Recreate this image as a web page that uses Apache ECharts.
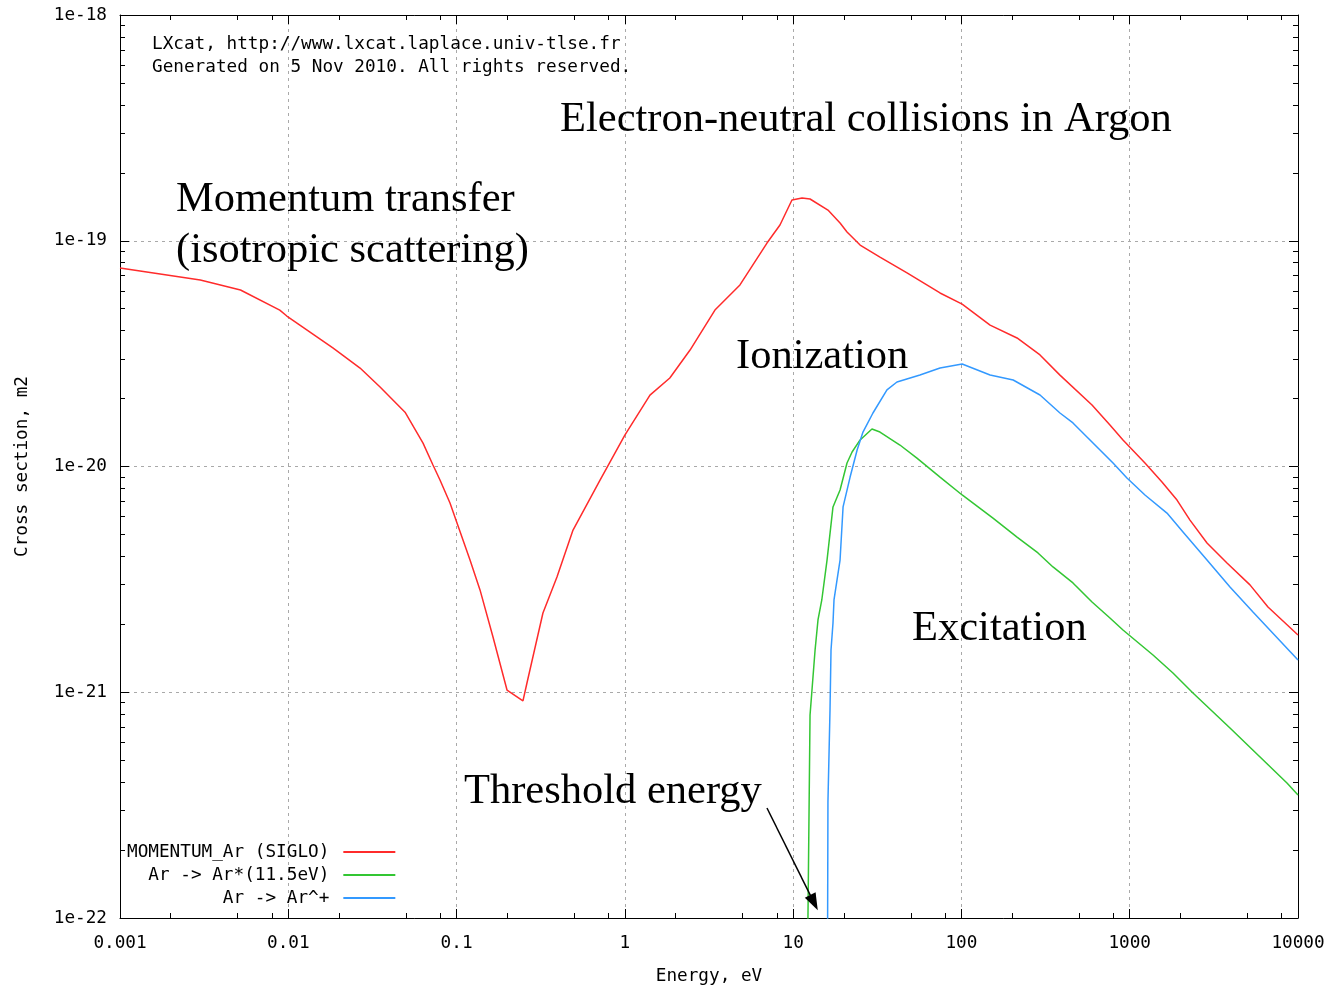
<!DOCTYPE html>
<html>
<head>
<meta charset="utf-8">
<title>Electron-neutral collisions in Argon</title>
<script src="https://cdn.jsdelivr.net/npm/echarts@6/dist/echarts.min.js"></script>
<style>
  html, body { margin: 0; padding: 0; background: #ffffff; }
  #chart { width: 1330px; height: 990px; }
</style>
</head>
<body>
<div id="chart"></div>
<script>
// ---- Cross-section data (energy in eV, cross section in m2) ----
const momentumEnergy = [0.001, 0.003, 0.0052, 0.0089, 0.0098, 0.0184, 0.0267, 0.0351, 0.0494, 0.0632,
  0.0724, 0.0797, 0.0914, 0.1006, 0.1202, 0.1378, 0.1646, 0.1994, 0.248, 0.262,
  0.326, 0.395, 0.492, 0.712, 1.0, 1.41, 1.85, 2.44, 3.43, 4.83,
  6.99, 8.35, 9.84, 11.3, 12.6, 16.1, 19.0, 20.9, 25.0, 32.8,
  47.5, 74.6, 101, 148, 214, 293, 385, 597, 763, 912,
  1232, 1555, 1910, 2281, 2879, 3785, 5183, 6631, 10000];
const momentumSigma = [7.57e-20, 6.70e-20, 6.05e-20, 4.93e-20, 4.64e-20, 3.35e-20, 2.73e-20, 2.25e-20, 1.74e-20, 1.27e-20,
  1.015e-20, 8.71e-21, 6.89e-21, 5.62e-21, 3.85e-21, 2.84e-21, 1.757e-21, 1.023e-21, 9.15e-22, 1.099e-21,
  2.244e-21, 3.24e-21, 5.23e-21, 8.71e-21, 1.378e-20, 2.07e-20, 2.466e-20, 3.28e-20, 4.93e-20, 6.37e-20,
  9.77e-20, 1.174e-19, 1.516e-19, 1.547e-19, 1.531e-19, 1.368e-19, 1.198e-19, 1.093e-19, 9.57e-20, 8.47e-20,
  7.20e-20, 5.87e-20, 5.24e-20, 4.23e-20, 3.71e-20, 3.12e-20, 2.54e-20, 1.873e-20, 1.527e-20, 1.311e-20,
  1.036e-20, 8.54e-21, 7.10e-21, 5.79e-21, 4.58e-21, 3.74e-21, 2.99e-21, 2.385e-21, 1.793e-21];

// excitation starts at its 11.5 eV threshold (first value is effectively zero)
const excitationEnergy = [11.5, 12.6, 12.9, 13.5, 14.05, 14.8, 15.9, 17.25, 19.0, 20.9,
  22.4, 25.0, 29.4, 32.8, 43.1, 54.4, 74.6, 101, 154, 214,
  285, 350, 460, 597, 763, 912, 1375, 1807, 2376, 3943,
  8600, 10000];
const excitationSigma = [1e-24, 7.93e-22, 9.93e-22, 1.539e-21, 2.09e-21, 2.563e-21, 3.85e-21, 6.62e-21, 7.87e-21, 1.036e-20,
  1.159e-20, 1.311e-20, 1.466e-20, 1.421e-20, 1.245e-20, 1.09e-20, 8.98e-21, 7.48e-21, 5.91e-21, 4.87e-21,
  4.14e-21, 3.59e-21, 3.05e-21, 2.51e-21, 2.133e-21, 1.887e-21, 1.462e-21, 1.217e-21, 9.92e-22, 6.94e-22,
  3.96e-22, 3.51e-22];

// ionization starts at 15.76 eV (first value is effectively zero)
const ionizationEnergy = [15.76, 16.1, 16.56, 16.79, 17.25, 17.49, 19.0, 19.8, 21.8, 24.0,
  26.0, 29.8, 36.1, 41.4, 56.7, 74.6, 101, 148, 203, 293,
  385, 460, 605, 796, 963, 1232, 1665, 2073, 2879, 3943,
  5401, 6631, 10000];
const ionizationSigma = [1e-24, 3.27e-22, 8.34e-22, 1.539e-21, 2.026e-21, 2.563e-21, 3.85e-21, 6.62e-21, 8.98e-21, 1.183e-20,
  1.421e-20, 1.726e-20, 2.183e-20, 2.367e-20, 2.543e-20, 2.73e-20, 2.845e-20, 2.543e-20, 2.416e-20, 2.073e-20,
  1.726e-20, 1.559e-20, 1.271e-20, 1.036e-20, 8.89e-21, 7.48e-21, 6.22e-21, 5.13e-21, 3.85e-21, 2.925e-21,
  2.267e-21, 1.926e-21, 1.39e-21];

const seriesNames = ['MOMENTUM_Ar (SIGLO)', 'Ar -> Ar*(11.5eV)', 'Ar -> Ar^+'];
const seriesColors = ['#ff2b2b', '#33c633', '#3399ff'];

// ---- Axis ticks ----
const xTickValues = [0.001, 0.01, 0.1, 1, 10, 100, 1000, 10000];
const xTickLabels = ['0.001', '0.01', '0.1', '1', '10', '100', '1000', '10000'];
const yTickValues = [1e-22, 1e-21, 1e-20, 1e-19, 1e-18];
const yTickLabels = ['1e-22', '1e-21', '1e-20', '1e-19', '1e-18'];
const xMinorSteps = [2, 5, 8];
const yMinorSteps = [2, 3, 4, 5, 6, 7, 8, 9];

// arrow pointing at the excitation threshold: [energy, sigma] tail and head
const arrowTail = [6.99, 3.07e-22];
const arrowHead = [13.3, 1.17e-22];

function minorValues(majors, steps) {
  const out = [];
  for (let i = 0; i < majors.length - 1; i++) {
    steps.forEach(k => out.push(+(k * majors[i]).toPrecision(6)));
  }
  return out;
}
const xMinorValues = minorValues(xTickValues, xMinorSteps);
const yMinorValues = minorValues(yTickValues, yMinorSteps);

function labelFor(values, labels) {
  return function (v) {
    let best = 0, bestD = Infinity;
    values.forEach((t, i) => {
      const d = Math.abs(Math.log10(v) - Math.log10(t));
      if (d < bestD) { bestD = d; best = i; }
    });
    return labels[best];
  };
}

const MONO = "'DejaVu Sans Mono', 'Liberation Mono', monospace";
const SERIF = "'Liberation Serif', 'DejaVu Serif', serif";
const MONO_SIZE = 17.7;

function zip(a, b) { return a.map((v, i) => [v, b[i]]); }

function logAxis(kind, position, tickValues, tickLen, extra) {
  const isX = kind === 'x';
  const base = {
    type: 'log',
    logBase: 10,
    min: isX ? xTickValues[0] : yTickValues[0],
    max: isX ? xTickValues[xTickValues.length - 1] : yTickValues[yTickValues.length - 1],
    position: position,
    axisLine: { show: false, onZero: false, lineStyle: { color: '#000', width: 1 } },
    axisTick: { show: true, inside: true, length: tickLen, customValues: tickValues,
      lineStyle: { color: '#000', width: 1 } },
    axisLabel: { show: false },
    splitLine: { show: false },
    minorTick: { show: false },
    minorSplitLine: { show: false }
  };
  return Object.assign(base, extra || {});
}

const xAxes = [
  logAxis('x', 'bottom', xTickValues, 9, {
    axisLine: { show: true, onZero: false, lineStyle: { color: '#000', width: 1 } },
    axisLabel: { show: true, customValues: xTickValues, formatter: labelFor(xTickValues, xTickLabels),
      margin: 16, color: '#000', fontFamily: MONO, fontSize: MONO_SIZE },
    splitLine: { show: true, lineStyle: { color: '#a9a9a9', width: 1, type: [3, 4] } },
    name: 'Energy, eV', nameLocation: 'middle', nameGap: 49,
    nameTextStyle: { color: '#000', fontFamily: MONO, fontSize: MONO_SIZE }
  }),
  logAxis('x', 'top', xTickValues, 9, {
    axisLine: { show: true, onZero: false, lineStyle: { color: '#000', width: 1 } }
  }),
  logAxis('x', 'bottom', xMinorValues, 5),
  logAxis('x', 'top', xMinorValues, 5)
];

const yAxes = [
  logAxis('y', 'left', yTickValues, 9, {
    axisLine: { show: true, onZero: false, lineStyle: { color: '#000', width: 1 } },
    axisLabel: { show: true, customValues: yTickValues, formatter: labelFor(yTickValues, yTickLabels),
      margin: 13, color: '#000', fontFamily: MONO, fontSize: MONO_SIZE },
    splitLine: { show: true, lineStyle: { color: '#a9a9a9', width: 1, type: [3, 4] } },
    name: 'Cross section, m2', nameLocation: 'middle', nameGap: 89,
    nameTextStyle: { color: '#000', fontFamily: MONO, fontSize: MONO_SIZE }
  }),
  logAxis('y', 'right', yTickValues, 9, {
    axisLine: { show: true, onZero: false, lineStyle: { color: '#000', width: 1 } }
  }),
  logAxis('y', 'left', yMinorValues, 5),
  logAxis('y', 'right', yMinorValues, 5)
];

function curve(name, color, energy, sigma) {
  return {
    name: name,
    type: 'line',
    xAxisIndex: 0,
    yAxisIndex: 0,
    data: zip(energy, sigma),
    symbol: 'none',
    smooth: false,
    clip: true,
    lineStyle: { color: color, width: 1.5 },
    itemStyle: { color: color },
    z: 3
  };
}

function note(text, x, y, font) {
  return {
    type: 'text', x: x, y: y, silent: true, z: 10,
    style: { text: text, font: font, fill: '#000', verticalAlign: 'middle', align: 'left' }
  };
}

const monoFont = MONO_SIZE + 'px ' + MONO;
const serifFont = '42.5px ' + SERIF;

const option = {
  animation: false,
  backgroundColor: '#ffffff',
  grid: { left: 120, right: 32, top: 15, bottom: 72, containLabel: false },
  xAxis: xAxes,
  yAxis: yAxes,
  legend: {
    data: seriesNames,
    orient: 'vertical',
    left: 122,
    top: 838,
    align: 'right',
    itemWidth: 52,
    itemHeight: 14,
    itemGap: 5,
    selectedMode: false,
    itemStyle: { opacity: 0 },
    lineStyle: { width: 2 },
    textStyle: { color: '#000', fontFamily: MONO, fontSize: MONO_SIZE,
      padding: [0, 9, 0, 0] }
  },
  series: [
    curve(seriesNames[0], seriesColors[0], momentumEnergy, momentumSigma),
    curve(seriesNames[1], seriesColors[1], excitationEnergy, excitationSigma),
    curve(seriesNames[2], seriesColors[2], ionizationEnergy, ionizationSigma),
    {
      name: 'threshold-arrow',
      type: 'line',
      data: [],
      silent: true,
      markLine: {
        silent: true,
        symbol: ['none', 'triangle'],
        symbolSize: [12, 17],
        label: { show: false },
        lineStyle: { color: '#000', width: 1.5, type: 'solid' },
        data: [[{ coord: arrowTail }, { coord: arrowHead }]]
      }
    }
  ],
  graphic: [
    note('LXcat, http://www.lxcat.laplace.univ-tlse.fr', 152, 44, monoFont),
    note('Generated on 5 Nov 2010. All rights reserved.', 152, 67, monoFont),
    note('Electron-neutral collisions in Argon', 560, 120, serifFont),
    note('Momentum transfer', 176, 200, serifFont),
    note('(isotropic scattering)', 176, 251, serifFont),
    note('Ionization', 736, 357, serifFont),
    note('Excitation', 912, 629, serifFont),
    note('Threshold energy', 464, 792, serifFont)
  ]
};

const chart = echarts.init(document.getElementById('chart'), null, { renderer: 'canvas' });
chart.setOption(option);
</script>
</body>
</html>
